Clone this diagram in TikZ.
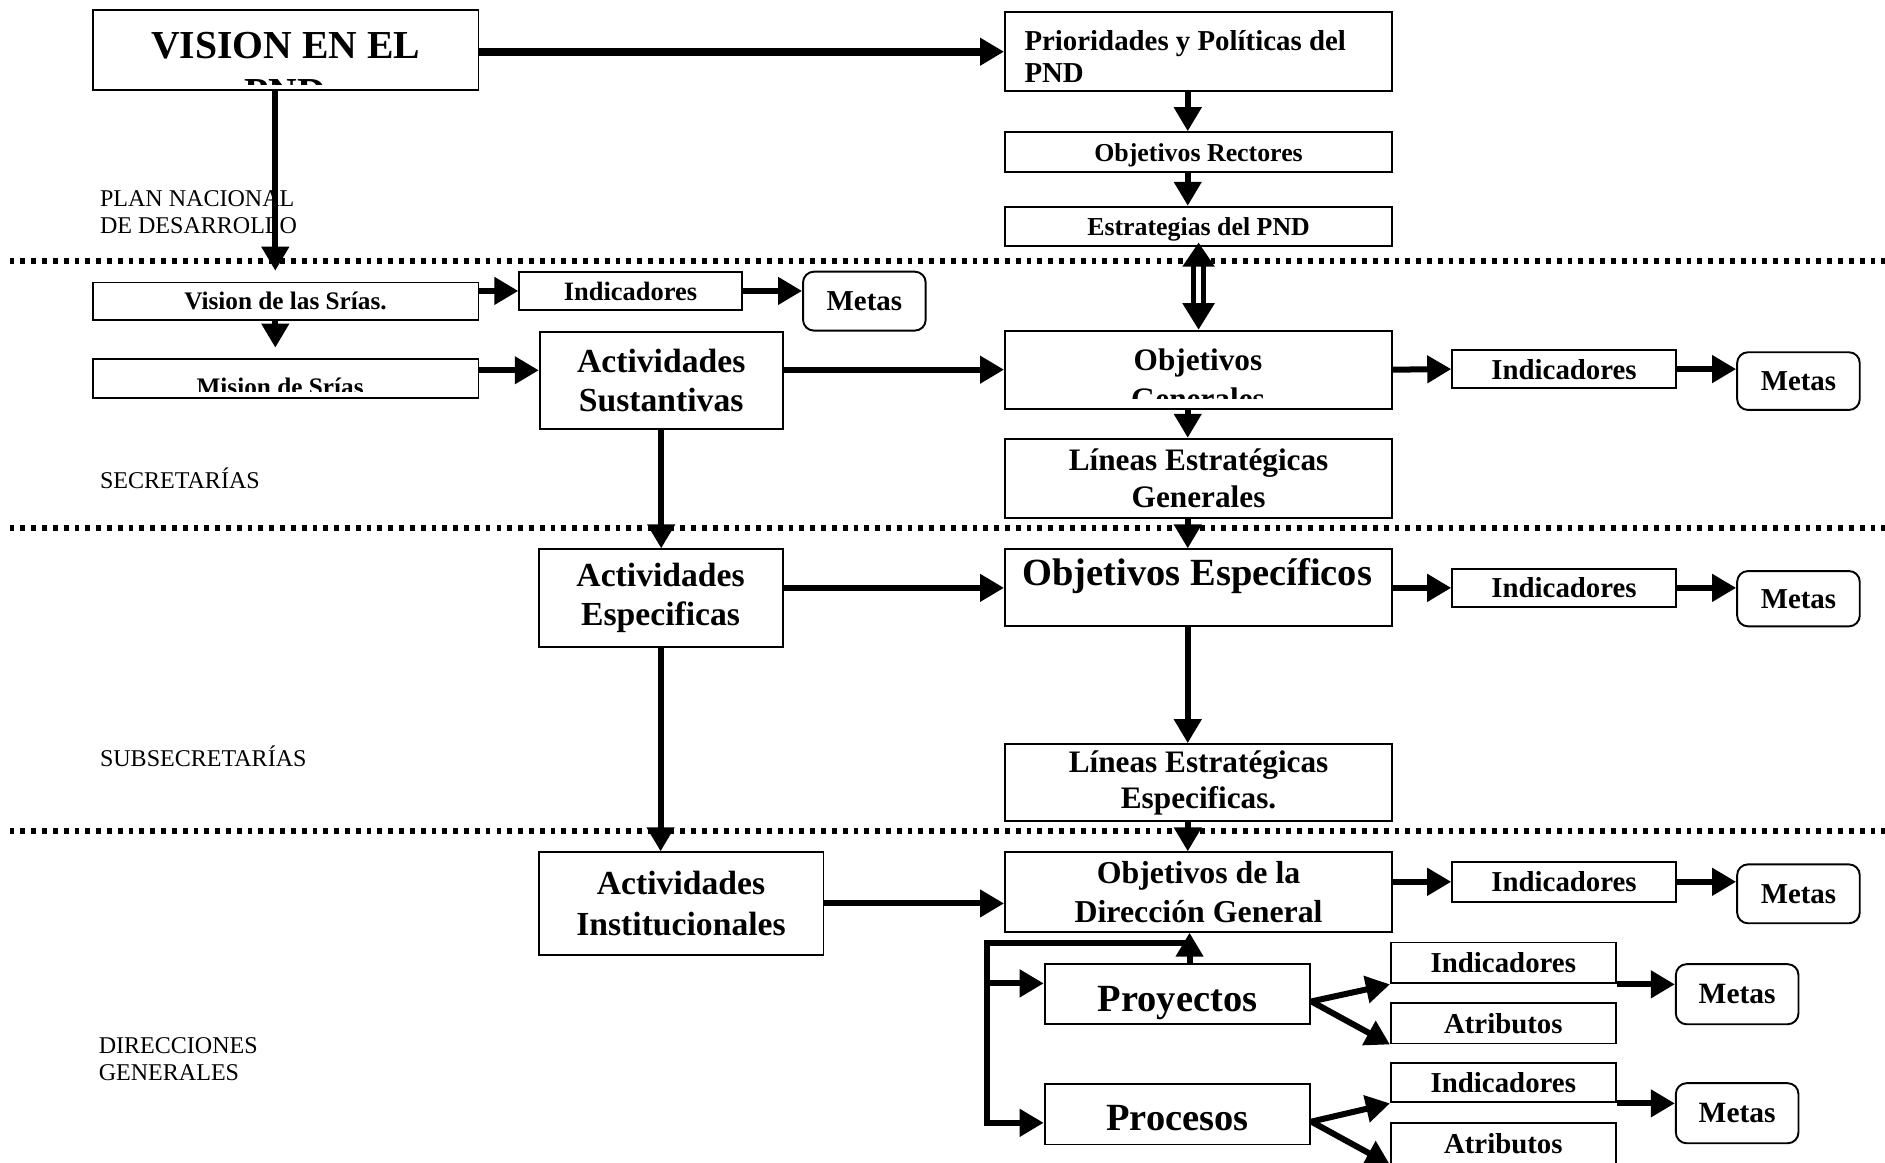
\documentclass[tikz,border=0pt]{standalone}
\usepackage{fontspec}
\setmainfont{Liberation Serif}
\usetikzlibrary{arrows.meta,calc}
\newcommand\fz[2]{\fontsize{#1}{#2}\selectfont}

\begin{document}
\begin{tikzpicture}[x=1pt,y=-1pt,
  box/.style={draw, line width=1.6pt, inner sep=0pt, align=center, font=\bfseries},
  sbox/.style={box, text depth=0pt},
  rbox/.style={sbox, rounded corners=9pt},
  arr/.style={line width=5pt, line join=miter, -{Triangle[length=20pt,width=22pt]}},
  sep/.style={line width=5pt, dash pattern=on 4pt off 5pt},
  lbl/.style={anchor=base west, inner sep=0pt, font=\fz{20}{23}},
  btxt/.style={anchor=base, inner sep=0pt, font=\bfseries}
]
\useasboundingbox (0,0) rectangle (1568,967);

% level separators
\draw[sep] (8,217) -- (1568,217);
\draw[sep] (8,439) -- (1568,439);
\draw[sep] (8,691) -- (1568,691);

% level labels
\node[lbl] (l1a) at (83,172) {PLAN NACIONAL};
\node[lbl] (l1b) at (83,194) {DE DESARROLLO};
\node[lbl] (l2)  at (83,406) {SECRETARÍAS};
\node[lbl] (l3)  at (83,638) {SUBSECRETARÍAS};
\node[lbl] (l4a) at (82,876) {DIRECCIONES};
\node[lbl] (l4b) at (82,899) {GENERALES};

% ---- Plan Nacional de Desarrollo
\node[box, minimum width=321pt, minimum height=67pt] (vis) at (237.5,41.5) {};
\begin{scope}
  \clip (79,10) rectangle (396,70.5);
  \node[btxt, font=\bfseries\fz{33}{38}] (visA) at (237.5,48.5) {VISION EN EL};
  \node[btxt, font=\bfseries\fz{33}{38}] (visB) at (237.5,87.5) {PND};
\end{scope}

\node[box, minimum width=322pt, minimum height=66pt] (pri) at (997,43) {};
\node[anchor=base west, inner sep=0pt, font=\bfseries\fz{24}{27}] (priA) at (852,42) {Prioridades y Políticas del};
\node[anchor=base west, inner sep=0pt, font=\bfseries\fz{24}{27}] (priB) at (852,69) {PND};

\node[sbox, minimum width=322pt, minimum height=33pt, font=\bfseries\fz{21.5}{24}] (orc) at (997,126.5) {Objetivos Rectores};
\node[sbox, minimum width=322pt, minimum height=33pt, font=\bfseries\fz{21.5}{24}] (est) at (997,188.5) {Estrategias del PND};

% ---- Secretarías
\node[sbox, minimum width=321pt, minimum height=31pt, font=\bfseries\fz{21}{24}] (vs) at (237.5,250.5) {Vision de las Srías.};
\node[sbox, minimum width=185pt, minimum height=32pt, font=\bfseries\fz{22}{24}] (ind1) at (524.5,242) {Indicadores};
\node[rbox, minimum width=102pt, minimum height=49pt, font=\bfseries\fz{24}{26}] (met1) at (719,250.5) {Metas};

\node[box, minimum width=321pt, minimum height=32pt] (mis) at (237.5,315) {};
\begin{scope}
  \clip (79,300) rectangle (396,326);
  \node[btxt, font=\bfseries\fz{21}{24}] (misA) at (233,328.6) {Mision de Srías};
\end{scope}

\node[box, minimum width=202pt, minimum height=81pt, font=\bfseries\fz{28}{32}] (as) at (550,316.5) {Actividades\\Sustantivas};

\node[box, minimum width=322pt, minimum height=65pt] (og) at (997,307.5) {};
\begin{scope}
  \clip (838,277) rectangle (1156,331.5);
  \node[btxt, font=\bfseries\fz{26}{30}] (ogA) at (996.5,308) {Objetivos};
  \node[btxt, font=\bfseries\fz{26}{30}] (ogB) at (996.5,341) {Generales};
\end{scope}

\node[sbox, minimum width=186pt, minimum height=32pt, font=\bfseries\fz{24}{26}] (ind2) at (1301,307) {Indicadores};
\node[rbox, minimum width=102pt, minimum height=48pt, font=\bfseries\fz{24}{26}] (met2) at (1496,317) {Metas};

\node[box, minimum width=322pt, minimum height=66pt, font=\bfseries\fz{26}{31}] (leg) at (997,398) {Líneas Estratégicas\\Generales};

% ---- Subsecretarías
\node[box, minimum width=203pt, minimum height=81pt, font=\bfseries\fz{28}{32}] (ae) at (549.5,497.5) {Actividades\\Especificas};

\node[box, minimum width=322pt, minimum height=64pt] (oe) at (997,489) {};
\node[btxt, font=\bfseries\fz{32}{36}] (oeA) at (996,487) {Objetivos Específicos};

\node[sbox, minimum width=186pt, minimum height=32pt, font=\bfseries\fz{24}{26}] (ind3) at (1301,489) {Indicadores};
\node[rbox, minimum width=102pt, minimum height=46pt, font=\bfseries\fz{24}{26}] (met3) at (1496,498) {Metas};

\node[box, minimum width=322pt, minimum height=64pt, font=\bfseries\fz{26}{30}] (lee) at (997,651) {Líneas Estratégicas\\Especificas.};

% ---- Direcciones Generales
\node[box, minimum width=237pt, minimum height=85pt, font=\bfseries\fz{28}{34}] (ai) at (566.5,751.5) {Actividades\\Institucionales};
\node[box, minimum width=322pt, minimum height=66pt, font=\bfseries\fz{26.5}{32}] (odg) at (997,742) {Objetivos de la\\Dirección General};
\node[sbox, minimum width=186pt, minimum height=33pt, font=\bfseries\fz{24}{26}] (ind4) at (1301,733.5) {Indicadores};
\node[rbox, minimum width=102pt, minimum height=49pt, font=\bfseries\fz{24}{26}] (met4) at (1496,743.5) {Metas};

\node[box, minimum width=221pt, minimum height=50pt] (proy) at (979.5,827) {};
\node[btxt, font=\bfseries\fz{32}{36}] (proyA) at (979.5,841.5) {Proyectos};
\node[box, minimum width=221pt, minimum height=50pt] (proc) at (979.5,927) {};
\node[btxt, font=\bfseries\fz{32}{36}] (procA) at (979.5,940.5) {Procesos};

\node[sbox, minimum width=187pt, minimum height=34pt, font=\bfseries\fz{24}{26}] (ind5) at (1250.5,801) {Indicadores};
\node[sbox, minimum width=187pt, minimum height=34pt, font=\bfseries\fz{24}{26}] (atr5) at (1250.5,851) {Atributos};
\node[rbox, minimum width=102pt, minimum height=50pt, font=\bfseries\fz{24.5}{26}] (met5) at (1445,827) {Metas};

\node[sbox, minimum width=187pt, minimum height=33pt, font=\bfseries\fz{24}{26}] (ind6) at (1250.5,900.5) {Indicadores};
\node[sbox, minimum width=187pt, minimum height=34pt, font=\bfseries\fz{24}{26}] (atr6) at (1250.5,951) {Atributos};
\node[rbox, minimum width=102pt, minimum height=50pt, font=\bfseries\fz{24.5}{26}] (met6) at (1445,926) {Metas};

% ---- connectors: PND column
\draw[arr, line width=6.5pt] (vis.east |- pri.west) -- (pri.west);
\draw[arr] ([xshift=-9pt]pri.south) -- ([xshift=-9pt]orc.north);
\draw[arr] ([xshift=-9pt]orc.south) -- ([xshift=-9pt]est.north);
\draw[line width=4pt, double, double distance=4pt, shorten <=-4pt,
      {Triangle[length=20pt,width=26pt]}-{Triangle[length=22pt,width=26pt]}] (est.south) -- (og.north);
\draw[arr, shorten >=9pt] ([xshift=-8.5pt]vis.south) -- ([xshift=-8.5pt]vs.north);

% ---- connectors: Secretarías
\draw[arr] (vs.east |- ind1.west) -- (ind1.west);
\draw[arr] (ind1.east) -- (ind1.east -| met1.west);
\draw[arr, shorten >=9pt] ([xshift=-8.5pt]vs.south) -- ([xshift=-8.5pt]mis.north);
\draw[arr] ([yshift=7pt]mis.east) -- ([yshift=7pt]mis.east -| as.west);
\draw[arr] (as.east |- og.west) -- (og.west);
\draw[arr] (og.east) -- (ind2.west);
\draw[arr] (ind2.east) -- (ind2.east -| met2.west);
\draw[arr] ([xshift=-9pt]og.south) -- ([xshift=-9pt]leg.north);
\draw[arr] ([xshift=-9pt]leg.south) -- ([xshift=-9pt]oe.north);
\draw[arr] (as.south) -- (as.south |- ae.north);

% ---- connectors: Subsecretarías
\draw[arr] (ae.east |- oe.west) -- (oe.west);
\draw[arr] (oe.east) -- (ind3.west);
\draw[arr] (ind3.east) -- (ind3.east -| met3.west);
\draw[arr] ([xshift=-9pt]oe.south) -- ([xshift=-9pt]lee.north);
\draw[arr] ([xshift=-9pt]lee.south) -- ([xshift=-9pt]odg.north);
\draw[arr] (ae.south) -- (ae.south |- ai.north);

% ---- connectors: Direcciones Generales
\draw[arr] (ai.east) -- (ai.east -| odg.west);
\draw[arr] (odg.east |- ind4.west) -- (ind4.west);
\draw[arr] (ind4.east) -- (ind4.east -| met4.west);

\coordinate (bus) at (821,784);
\coordinate (busend) at (821,934);
\coordinate (pw) at ([yshift=9pt]proy.west);
\draw[arr] ([xshift=12.5pt]proy.north |- bus) -- (bus) -- (busend) -- (busend -| proc.west);
\draw[arr] (bus |- pw) -- (pw);
\draw[arr] ([xshift=10pt]proy.north) -- ([xshift=10pt]proy.north |- odg.south);

\draw[arr] ([yshift=-6pt]proy.east) -- (ind5.south west);
\draw[arr] ([yshift=-6pt]proy.east) -- (atr5.south west);
\draw[arr] (ind5.south east) -- (ind5.south east -| met5.west);

\draw[arr] ([yshift=-6pt]proc.east) -- (ind6.south west);
\draw[arr] ([yshift=-6pt]proc.east) -- (atr6.south west);
\draw[arr] (ind6.south east) -- (ind6.south east -| met6.west);
\end{tikzpicture}
\end{document}
